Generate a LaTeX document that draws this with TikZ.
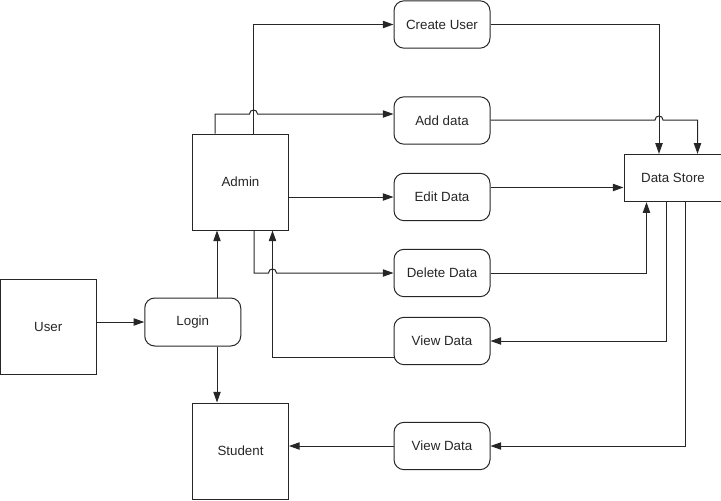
\documentclass[tikz,border=0pt]{standalone}
\usepackage{fontspec}
\setmainfont{Liberation Sans}
\usetikzlibrary{arrows.meta}
\begin{document}
\begin{tikzpicture}[x=0.75pt,y=-0.75pt,
  font=\fontsize{10}{12}\selectfont,
  line width=0.75pt,
  every node/.style={text=black!85},
  sq/.style={draw=black!85,rectangle,minimum width=72pt,minimum height=72pt,inner sep=0pt},
  rbox/.style={draw=black!85,rectangle,rounded corners=7.5pt,minimum width=72pt,minimum height=35.5pt,inner sep=0pt},
  arr/.style={draw=black!85,-{Triangle[length=8pt,width=5.5pt]}},
  ]
\useasboundingbox (0,0) rectangle (721,500);
% nodes
\node[sq,minimum height=71.25pt] (user) at (48.25,326.5) {User};
\node[rbox,minimum height=36pt] (login) at (192.75,322) {Login};
\node[sq] (admin) at (240.5,182) {Admin};
\node[sq] (student) at (240.5,451) {Student};
\node[rbox] (create) at (442,24.5) {Create User};
\node[rbox] (add) at (442,120.5) {Add data};
\node[rbox] (edit) at (442,197) {Edit Data};
\node[rbox] (delete) at (442,273) {Delete Data};
\node[rbox] (view1) at (442,341) {View Data};
\node[rbox] (view2) at (442,446) {View Data};
\node[draw=black!85,rectangle,minimum width=73.5pt,minimum height=35.5pt,inner sep=0pt] (store) at (673,178) {Data Store};
% connectors
\draw[arr] (login.west -| user.east) -- (login.west);
\draw[arr] (217,0 |- login.north) -- (217,0 |- admin.south);
\draw[arr] (217,0 |- login.south) -- (217,0 |- student.north);
\draw[arr] (253.5,0 |- admin.north) |- (create.west);
\draw[arr] (215,0 |- admin.north) -- (215,114) -- (249.5,114)
   .. controls (249.5,108.7) and (257.5,108.7) .. (257.5,114) -- (add.west |- 0,114);
\draw[arr] (admin.east |- edit.west) -- (edit.west);
\draw[arr] (254,0 |- admin.south) -- (254,273) -- (268.5,273)
   .. controls (268.5,267.7) and (276.5,267.7) .. (276.5,273) -- (delete.west);
\draw[arr] (view1.west |- 0,357) -- (272.5,357) -- (272.5,0 |- admin.south);
\draw[arr] (view2.west) -- (student.east |- view2.west);
\draw[arr] (create.east) -| (659,0 |- store.north);
\draw[arr] (add.east |- 0,120) -- (655,120)
   .. controls (655,114.7) and (663,114.7) .. (663,120) -- (697.5,120) -- (697.5,0 |- store.north);
\draw[arr] (edit.east |- 0,187.5) -- (store.west |- 0,187.5);
\draw[arr] (delete.east) -| (646.5,0 |- store.south);
\draw[arr] (666,0 |- store.south) |- (view1.east);
\draw[arr] (685,0 |- store.south) |- (view2.east);
\end{tikzpicture}
\end{document}
